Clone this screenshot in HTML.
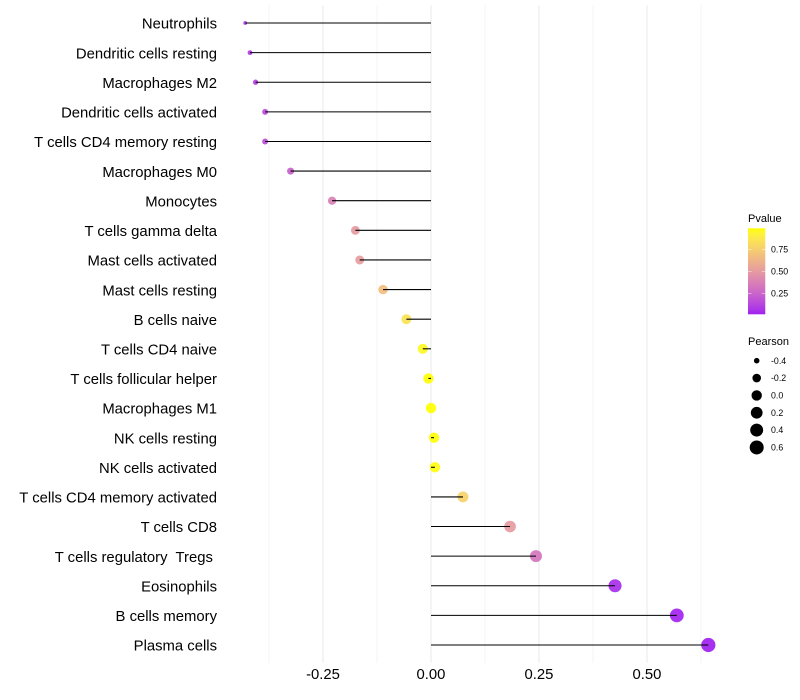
<!DOCTYPE html>
<html>
<head>
<meta charset="utf-8">
<title>Immune cell correlation lollipop chart</title>
<style>
html,body{margin:0;padding:0;background:#fff;}
svg{display:block;font-family:"Liberation Sans",sans-serif;}
text{white-space:pre;}
</style>
</head>
<body>
<svg id="chart" xmlns="http://www.w3.org/2000/svg" width="800" height="700" viewBox="0 0 800 700">
<defs><linearGradient id="pgrad" x1="0" y1="1" x2="0" y2="0"></linearGradient></defs>
<rect x="0" y="0" width="800" height="700" fill="#fff"/>
<g id="grid"></g>
<g id="points"></g>
<g id="stems"></g>
<g id="ylabels"></g>
<g id="xlabels"></g>
<g id="legend-p"></g>
<g id="legend-s"></g>
</svg>
<script>
const categories = ["Neutrophils","Dendritic cells resting","Macrophages M2","Dendritic cells activated","T cells CD4 memory resting","Macrophages M0","Monocytes","T cells gamma delta","Mast cells activated","Mast cells resting","B cells naive","T cells CD4 naive","T cells follicular helper","Macrophages M1","NK cells resting","NK cells activated","T cells CD4 memory activated","T cells CD8","T cells regulatory  Tregs ","Eosinophils","B cells memory","Plasma cells"];
const pearson = [-0.43,-0.419,-0.406,-0.384,-0.384,-0.325,-0.229,-0.175,-0.165,-0.111,-0.057,-0.019,-0.006,0.0,0.007,0.009,0.074,0.183,0.243,0.426,0.569,0.642];
const pvalues = [0.07,0.09,0.11,0.15,0.15,0.23,0.38,0.5,0.51,0.67,0.85,0.96,0.985,0.989,0.985,0.98,0.77,0.5,0.33,0.05,0.02,0.011];
const xTicks = [-0.25,0,0.25,0.5];
const xTickLabels = ["-0.25","0.00","0.25","0.50"];
const xMinorTicks = [-0.375,-0.125,0.125,0.375,0.625];
const pTicks = [0.25,0.5,0.75];
const pTickLabels = ["0.25","0.50","0.75"];
const sizeBreaks = [-0.4,-0.2,0,0.2,0.4,0.6];
const sizeLabels = ["-0.4","-0.2","0.0","0.2","0.4","0.6"];

const NS = "http://www.w3.org/2000/svg";
function mk(parent, tag, attrs, txt){
  const e = document.createElementNS(NS, tag);
  for (const k in attrs) e.setAttribute(k, attrs[k]);
  if (txt !== undefined) e.textContent = txt;
  parent.appendChild(e);
  return e;
}
const g = id => document.getElementById(id);

const xScale = v => 431 + v * 432;
const yScale = i => 23 + i * (622 / (categories.length - 1));
const panelTop = 5.2, panelBottom = 662.8;

const rMin = Math.min(...pearson), rMax = Math.max(...pearson);
const pMin = Math.min(...pvalues), pMax = Math.max(...pvalues);
const sizeScale = v => {
  const t = Math.max(0, (v - rMin) / (rMax - rMin));
  return (3.8 + (14.2 - 3.8) * Math.sqrt(t)) / 2;
};
const barTop = 228.3, barBottom = 314.3;
const pLegendY = p => barBottom - (p - pMin) / (pMax - pMin) * (barBottom - barTop);

function rgb2lab(c){
  let [r,gg,b] = c.map(v => { v/=255; return v>0.04045?Math.pow((v+0.055)/1.055,2.4):v/12.92; });
  let x=(0.4124*r+0.3576*gg+0.1805*b)/0.95047, y=0.2126*r+0.7152*gg+0.0722*b, z=(0.0193*r+0.1192*gg+0.9505*b)/1.08883;
  const f=t=>t>0.008856?Math.cbrt(t):7.787*t+16/116;
  return [116*f(y)-16,500*(f(x)-f(y)),200*(f(y)-f(z))];
}
function lab2rgb(l){
  const fy=(l[0]+16)/116, fx=l[1]/500+fy, fz=fy-l[2]/200;
  const inv=t=>t*t*t>0.008856?t*t*t:(t-16/116)/7.787;
  const x=inv(fx)*0.95047,y=inv(fy),z=inv(fz)*1.08883;
  const lin=[3.2406*x-1.5372*y-0.4986*z,-0.9689*x+1.8758*y+0.0415*z,0.0557*x-0.2040*y+1.0570*z];
  return lin.map(v=>{ v=Math.max(0,Math.min(1,v)); v=v>0.0031308?1.055*Math.pow(v,1/2.4)-0.055:12.92*v; return Math.round(v*255); });
}
const labLow = rgb2lab([160,32,240]), labHigh = rgb2lab([255,255,0]);
const colorAt = t => {
  const c = lab2rgb(labLow.map((v,i)=>v+(labHigh[i]-v)*t));
  return "rgb("+c.join(",")+")";
};
const colorScale = p => colorAt((p - pMin) / (pMax - pMin));

// grid
xMinorTicks.forEach(v => {
  const l = mk(g("grid"), "line", {x1:xScale(v),x2:xScale(v),y1:panelTop,y2:panelBottom,stroke:"#ebebeb","stroke-width":0.53});
  
  
});
xTicks.forEach(v => {
  const l = mk(g("grid"), "line", {x1:xScale(v),x2:xScale(v),y1:panelTop,y2:panelBottom,stroke:"#ebebeb","stroke-width":1.07});
  
  
});

// points, stems, category labels
categories.forEach((c,i) => {
  const y = yScale(i);
  const pt = mk(g("points"), "circle", {cx:xScale(pearson[i]),cy:y,r:sizeScale(pearson[i]),fill:colorScale(pvalues[i]),"fill-opacity":0.92});
  
  
  const st = mk(g("stems"), "line", {x1:xScale(0),x2:xScale(pearson[i]),y1:y,y2:y,stroke:"#000","stroke-width":1.07});
  
  
  const t = mk(g("ylabels"), "text", {x:217,y:y+5.7,"text-anchor":"end","font-size":14.85,fill:"#000"}, c);
  
  
});

// x tick labels
xTicks.forEach((v,i) => {
  const t = mk(g("xlabels"), "text", {x:xScale(v),y:679,"text-anchor":"middle","font-size":14.85,fill:"#000"}, xTickLabels[i]);
  
  
});

// p-value legend
const grad = g("pgrad");
for (let i = 0; i <= 20; i++) mk(grad, "stop", {offset:(i*5)+"%","stop-color":colorAt(i/20)});
const pTitle = mk(g("legend-p"), "text", {x:748,y:222,"font-size":11,fill:"#000"}, "Pvalue");


const bar = mk(g("legend-p"), "rect", {x:748,y:barTop,width:17.28,height:barBottom-barTop,fill:"url(#pgrad)"});


pTicks.forEach((p,i) => {
  const y = pLegendY(p);
  const a = mk(g("legend-p"), "line", {x1:748,x2:751.5,y1:y,y2:y,stroke:"#fff","stroke-width":0.5,"stroke-opacity":0.9});
  
  
  const b = mk(g("legend-p"), "line", {x1:761.8,x2:765.3,y1:y,y2:y,stroke:"#fff","stroke-width":0.5,"stroke-opacity":0.9});
  
  
  const t = mk(g("legend-p"), "text", {x:771,y:y+3.1,"font-size":8.8,fill:"#000"}, pTickLabels[i]);
  
  
});

// size legend
const sTitle = mk(g("legend-s"), "text", {x:748,y:345,"font-size":11,fill:"#000"}, "Pearson");


sizeBreaks.forEach((v,i) => {
  const y = 360.7 + i * 17.35;
  const c = mk(g("legend-s"), "circle", {cx:756.7,cy:y,r:sizeScale(v),fill:"#000"});
  
  
  const t = mk(g("legend-s"), "text", {x:771,y:y+3.1,"font-size":8.8,fill:"#000"}, sizeLabels[i]);
  
  
});
</script>
</body>
</html>
